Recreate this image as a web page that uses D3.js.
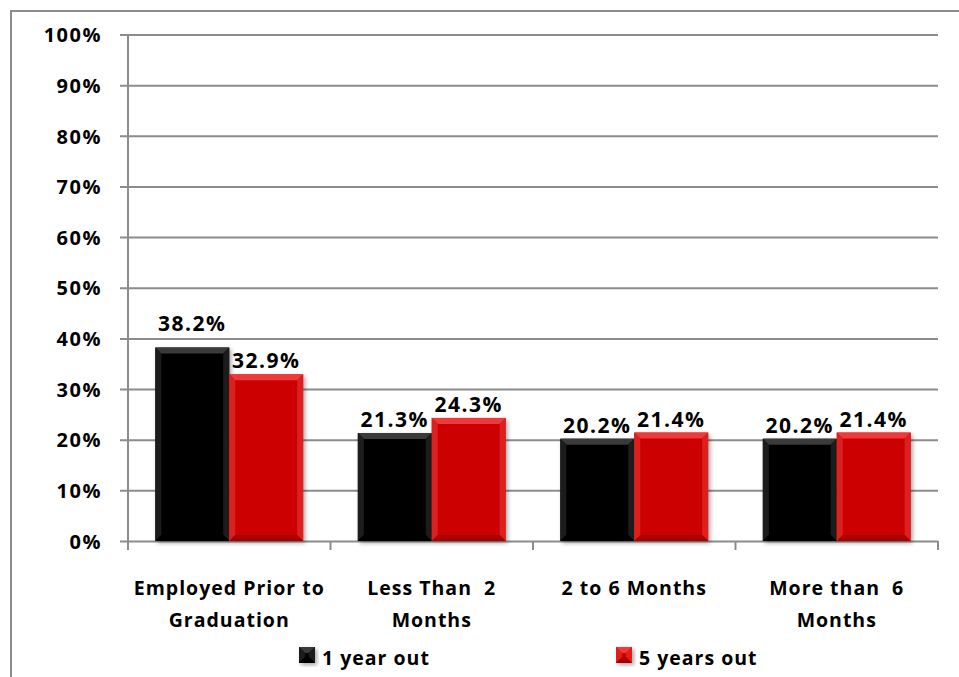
<!DOCTYPE html>
<html>
<head>
<meta charset="utf-8">
<script src="https://cdn.jsdelivr.net/npm/d3@7"></script>
<style>
  html, body { margin: 0; padding: 0; background: #fff; }
  svg text { font-family: "Open Sans", sans-serif; font-weight: 700; fill: #000; }
</style>
</head>
<body>
<div id="chart"></div>
<script>
(function (d3) {
    'use strict';

    // chart data
    var categories = ['Employed Prior to Graduation', 'Less Than 2 Months', '2 to 6 Months', 'More than 6 Months'];
    var categoryLines = [
        ['Employed Prior to', 'Graduation'],
        ['Less Than  2', 'Months'],
        ['2 to 6 Months'],
        ['More than  6', 'Months']
    ];
    var seriesNames = ['1 year out', '5 years out'];
    var oneYearOut = [0.382, 0.213, 0.202, 0.202];
    var fiveYearsOut = [0.329, 0.243, 0.214, 0.214];
    var yTicks = [0, 0.1, 0.2, 0.3, 0.4, 0.5, 0.6, 0.7, 0.8, 0.9, 1.0];

    var width = 959, height = 677;
    var grey = '#8c8c8c';
    var palette = [
        {base: '#060606', top: '#3a3a3a', side: '#1c1c1c', low: '#000'},
        {base: '#cc0606', top: '#ee3a3a', side: '#dc2020', low: '#a80000'}
    ];

    var svg = d3.select('#chart').append('svg')
        .attr('width', width)
        .attr('height', height);

    var defs = svg.append('defs');
    defs.append('filter')
        .attr('id', 'shadow')
        .attr('x', '-20%').attr('y', '-20%').attr('width', '140%').attr('height', '140%')
        .append('feDropShadow')
        .attr('dx', 2).attr('dy', 2).attr('stdDeviation', 2)
        .attr('flood-color', '#000').attr('flood-opacity', 0.35);

    // outer frame (right and bottom fall off the picture)
    svg.append('rect')
        .attr('x', 11).attr('y', 11)
        .attr('width', width + 10).attr('height', height + 10)
        .attr('fill', 'none')
        .attr('stroke', grey)
        .attr('stroke-width', 2);

    var x0 = d3.scaleBand()
        .domain(categories)
        .range([128, 938])
        .paddingInner(0.27)
        .paddingOuter(0.135);

    var x1 = d3.scaleBand()
        .domain(seriesNames)
        .range([0, x0.bandwidth()]);

    var y = d3.scaleLinear()
        .domain([0, 1])
        .range([541, 34.5]);

    // gridlines + y axis
    var yAxis = d3.axisLeft(y)
        .tickValues(yTicks)
        .tickSize(-(938 - 128))
        .tickFormat(d3.format('.0%'));

    var gy = svg.append('g')
        .attr('transform', 'translate(128,0)')
        .call(yAxis);
    gy.select('.domain').remove();
    gy.selectAll('.tick line')
        .attr('x1', -8)
        .attr('stroke', grey)
        .attr('stroke-width', 2);
    gy.selectAll('.tick text')
        .attr('x', -26)
        .attr('dy', '0.36em')
        .attr('font-size', 20)
        .attr('letter-spacing', 1.5)
        .attr('font-family', null);

    svg.append('line')
        .attr('x1', 128).attr('x2', 128)
        .attr('y1', y(1)).attr('y2', y(0))
        .attr('stroke', grey).attr('stroke-width', 2);

    // category boundary ticks
    var step = x0.step();
    var boundaries = categories.map(function (c) { return x0(c) - x0.paddingInner() * step / 2; });
    boundaries.push(boundaries[boundaries.length - 1] + step);
    svg.selectAll('line.cat-tick')
        .data(boundaries)
        .enter()
        .append('line')
        .attr('class', 'cat-tick')
        .attr('x1', function (d) { return d; })
        .attr('x2', function (d) { return d; })
        .attr('y1', y(0))
        .attr('y2', y(0) + 9)
        .attr('stroke', grey)
        .attr('stroke-width', 2);

    // bars
    var rows = [];
    categories.forEach(function (c, i) {
        [oneYearOut[i], fiveYearsOut[i]].forEach(function (v, s) {
            rows.push({cat: c, index: i, series: s, value: v});
        });
    });

    function drawBevelBox(g, bx, by, bw, bh, col) {
        var b = Math.min(6, bh / 2);
        g.append('rect')
            .attr('x', bx).attr('y', by)
            .attr('width', bw).attr('height', bh)
            .attr('fill', col.base)
            .attr('filter', 'url(#shadow)');
        g.append('polygon')
            .attr('points', [[bx, by], [bx + bw, by], [bx + bw - b, by + b], [bx + b, by + b]].join(' '))
            .attr('fill', col.top);
        g.append('polygon')
            .attr('points', [[bx, by], [bx + b, by + b], [bx + b, by + bh - b], [bx, by + bh]].join(' '))
            .attr('fill', col.side);
        g.append('polygon')
            .attr('points', [[bx + bw, by], [bx + bw - b, by + b], [bx + bw - b, by + bh - b], [bx + bw, by + bh]].join(' '))
            .attr('fill', col.side);
        g.append('polygon')
            .attr('points', [[bx, by + bh], [bx + b, by + bh - b], [bx + bw - b, by + bh - b], [bx + bw, by + bh]].join(' '))
            .attr('fill', col.low);
    }

    var barLayer = svg.append('g');
    rows.forEach(function (d) {
        var bx = x0(d.cat) + x1(seriesNames[d.series]);
        var by = y(d.value);
        drawBevelBox(barLayer.append('g'), bx, by, x1.bandwidth(), y(0) - by, palette[d.series]);
    });

    // value labels (first one was pushed up by the collision with its neighbour)
    svg.selectAll('text.value')
        .data(rows)
        .enter()
        .append('text')
        .attr('class', 'value')
        .attr('x', function (d) { return x0(d.cat) + x1(seriesNames[d.series]) + x1.bandwidth() / 2; })
        .attr('y', function (d) { return y(d.value) - ((d.index === 0 && d.series === 0) ? 17 : 6); })
        .attr('text-anchor', 'middle')
        .attr('font-size', 21)
        .attr('letter-spacing', 1.5)
        .text(function (d) { return d3.format('.1%')(d.value); });

    // category labels
    categories.forEach(function (c, i) {
        var t = svg.append('text')
            .attr('x', x0(c) + x0.bandwidth() / 2)
            .attr('y', 595)
            .attr('text-anchor', 'middle')
            .attr('font-size', 19.5)
            .attr('letter-spacing', 1);
        categoryLines[i].forEach(function (line, k) {
            t.append('tspan')
                .attr('x', x0(c) + x0.bandwidth() / 2)
                .attr('dy', k === 0 ? 0 : 31.5)
                .style('white-space', 'pre')
                .text(line);
        });
    });

    // legend
    var legendX = [299, 616];
    seriesNames.forEach(function (name, s) {
        var g = svg.append('g');
        drawBevelBox(g, legendX[s], 647, 16, 16, palette[s]);
        g.append('text')
            .attr('x', legendX[s] + 23)
            .attr('y', 665)
            .attr('font-size', 19.5)
            .attr('letter-spacing', 1)
            .text(name);
    });

})(d3);
</script>
</body>
</html>
